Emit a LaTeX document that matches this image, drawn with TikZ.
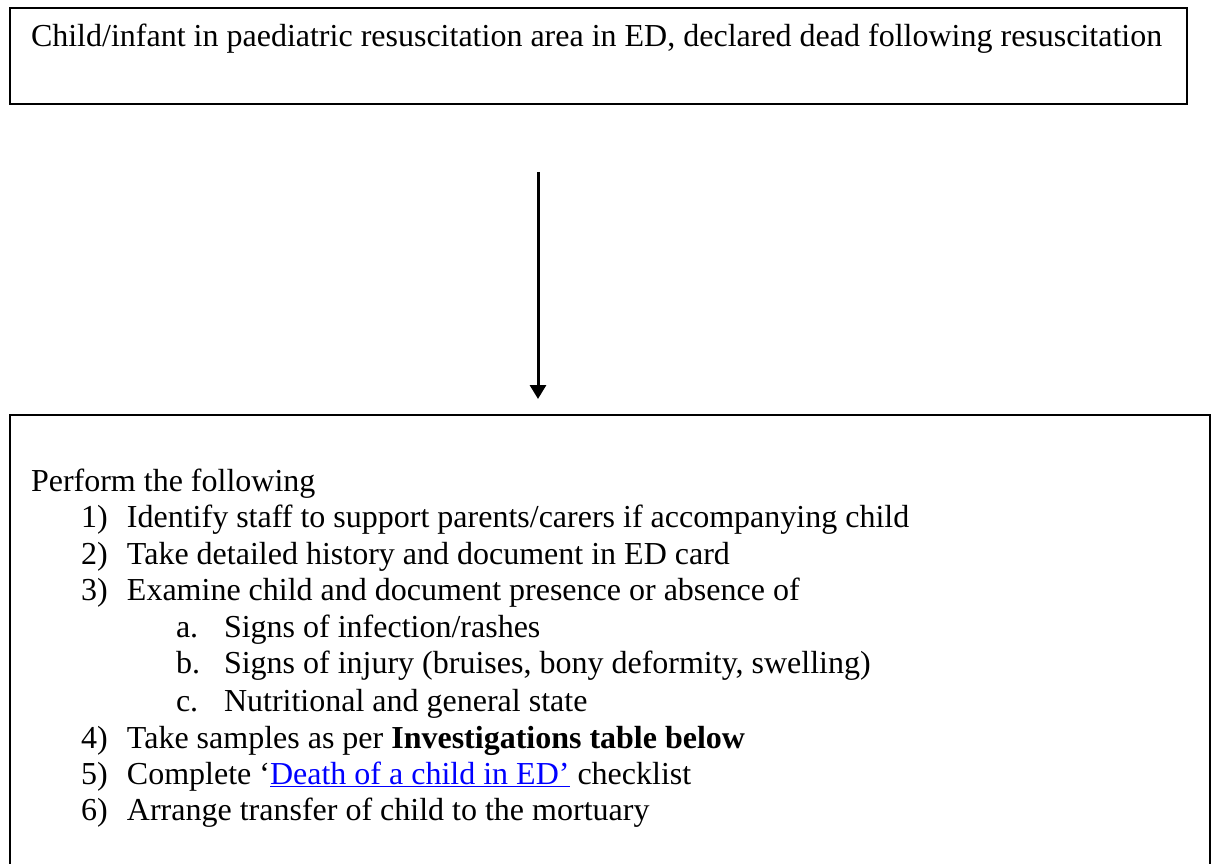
\documentclass[tikz,border=0pt]{standalone}
\usepackage{fontspec}
\setmainfont{Liberation Serif}
\usetikzlibrary{arrows.meta}

\begin{document}
\begin{tikzpicture}[x=1pt, y=-1pt, line width=2pt,
  box/.style={draw, anchor=north west, inner sep=0pt},
  txt/.style={anchor=base west, inner sep=0pt, font=\fontsize{32}{37}\selectfont}]
  % Page frame
  \clip (0,0) rectangle (1213,864);

  % Boxes
  \node[box, minimum width=1177pt, minimum height=96pt] (death) at (9,7) {};
  \node[box, minimum width=1200pt, minimum height=480pt] (steps) at (9,414) {};

  % Text in the top box
  \node[txt] (title) at (30,47) {Child/infant in paediatric resuscitation area in ED, declared dead following resuscitation};

  % Text in the bottom box
  \node[txt] (intro) at (30,491) {Perform the following};
  \node[txt] (s1) at (80,527) {\makebox[46pt][l]{1)}Identify staff to support parents/carers if accompanying child};
  \node[txt] (s2) at (80,564) {\makebox[46pt][l]{2)}Take detailed history and document in ED card};
  \node[txt] (s3) at (80,600) {\makebox[46pt][l]{3)}Examine child and document presence or absence of};
  \node[txt] (s3a) at (175,637) {\makebox[48pt][l]{a.}Signs of infection/rashes};
  \node[txt] (s3b) at (175,673) {\makebox[48pt][l]{b.}Signs of injury (bruises, bony deformity, swelling)};
  \node[txt] (s3c) at (175,711) {\makebox[48pt][l]{c.}Nutritional and general state};
  \node[txt] (s4) at (80,748) {\makebox[46pt][l]{4)}Take samples as per \textbf{Investigations table below}};
  \node[txt] (s5) at (80,784) {\makebox[46pt][l]{5)}Complete `\textcolor{blue}{\underline{Death of a child in ED'}} checklist};
  \node[txt] (s6) at (80,820) {\makebox[46pt][l]{6)}Arrange transfer of child to the mortuary};

  % Arrow between the boxes
  \coordinate (drop) at (538,172);
  \draw[line width=3pt, -{Triangle[length=14pt,width=16pt]}, shorten >=15pt] (drop) -- (drop |- steps.north);
\end{tikzpicture}
\end{document}
